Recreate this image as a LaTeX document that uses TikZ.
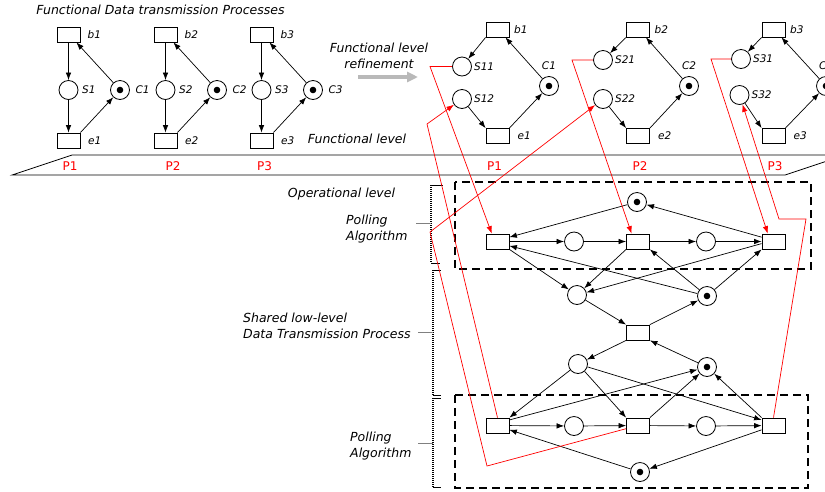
\documentclass[tikz,border=0pt]{standalone}
\usepackage{fontspec}
\setmainfont{DejaVu Sans}
\usepackage{tikz}
\usetikzlibrary{arrows.meta}

\tikzset{
    trans/.style={draw, rectangle, line width=0.8pt, minimum width=23pt, minimum height=15pt, inner sep=0pt},
    place/.style={draw, circle, line width=0.8pt, minimum size=19pt, inner sep=0pt},
    token/.style={place, path picture={\fill (path picture bounding box.center) circle (3.3pt);}},
    lab/.style={font=\fontsize{10.5}{12}\selectfont\itshape, inner sep=1pt},
    headline/.style={font=\fontsize{12.5}{16}\selectfont\itshape, align=left, inner sep=0pt},
    proc/.style={font=\fontsize{12}{14}\selectfont, text=red, inner sep=0pt},
    flow/.style={-{Latex[length=7.5pt,width=5.5pt]}, line width=0.7pt},
    refine/.style={red, line width=0.8pt},
    levelbox/.style={dash pattern=on 8pt off 5pt, line width=1.6pt},
    bracket/.style={dash pattern=on 1pt off 1pt, line width=1.6pt}
}

\begin{document}
\begin{tikzpicture}[x=1pt, y=-1pt]
                \useasboundingbox (0,0) rectangle (825,491);
                \fill[white] (0,0) rectangle (825,491);
                \begin{scope}
                \clip (0,0) rectangle (825,491);

                \node[headline] (title) at (160.5,10) {Functional Data transmission Processes};

                \node[trans, label={[lab, label distance=6pt]right:b1}] (b1) at (68.5,34.5) {};
                \node[place, label={[lab, label distance=2.5pt]right:S1}] (s1) at (68.5,90) {};
                \node[token, label={[lab, label distance=4.5pt]right:C1}] (c1) at (120,90) {};
                \node[trans, label={[lab, label distance=6.5pt]right:e1}] (e1) at (68.5,140.5) {};
                \draw[flow] (b1) -- (s1);
                \draw[flow] (s1) -- (e1);
                \draw[flow] (e1.north east) -- (c1);
                \draw[flow] (c1) -- (b1.-45);

                \node[trans, label={[lab, label distance=6pt]right:b2}] (b2) at (165.5,34.5) {};
                \node[place, label={[lab, label distance=2.5pt]right:S2}] (s2) at (165.5,90) {};
                \node[token, label={[lab, label distance=4.5pt]right:C2}] (c2) at (217,90) {};
                \node[trans, label={[lab, label distance=6.5pt]right:e2}] (e2) at (165.5,140.5) {};
                \draw[flow] (b2) -- (s2);
                \draw[flow] (s2) -- (e2);
                \draw[flow] (e2.north east) -- (c2);
                \draw[flow] (c2) -- (b2.-45);

                \node[trans, label={[lab, label distance=6pt]right:b3}] (b3) at (261.5,34.5) {};
                \node[place, label={[lab, label distance=2.5pt]right:S3}] (s3) at (261.5,90) {};
                \node[token, label={[lab, label distance=4.5pt]right:C3}] (c3) at (313,90) {};
                \node[trans, label={[lab, label distance=6.5pt]right:e3}] (e3) at (261.5,140.5) {};
                \draw[flow] (b3) -- (s3);
                \draw[flow] (s3) -- (e3);
                \draw[flow] (e3.north east) -- (c3);
                \draw[flow] (c3) -- (b3.-45);

                \node[headline, align=center] (refinetext) at (379,56) {Functional level\\refinement};
                \coordinate (rf1) at (358,77);
                \coordinate (rf2) at (418,77);
                \draw[line width=4pt, color=gray!55, -{Triangle[length=11pt,width=10pt]}] (rf1) -- (rf2);
                \node[headline] (funclevel) at (357,139) {Functional level};

                \node[trans, label={[lab, label distance=3.5pt]right:b1}] (rb1) at (497.5,29.5) {};
                \node[place, label={[lab, label distance=1pt]right:S11}] (s11) at (462,66.5) {};
                \node[place, label={[lab, label distance=1pt]right:S12}] (s12) at (462,99) {};
                \node[token, label={[lab, label distance=5pt]above:C1}] (rc1) at (549,86) {};
                \node[trans, label={[lab, label distance=7pt]right:e1}] (re1) at (497.5,136) {};
                \draw[flow] (rb1.south west) -- (s11);
                \draw[flow] (s12) -- (re1.north west);
                \draw[flow] (re1.north east) -- (rc1);
                \draw[flow] (rc1) -- (rb1.-45);

                \node[trans, label={[lab, label distance=3.5pt]right:b2}] (rb2) at (638,29.5) {};
                \node[place, label={[lab, label distance=1pt]right:S21}] (s21) at (603,60) {};
                \node[place, label={[lab, label distance=1pt]right:S22}] (s22) at (603,99) {};
                \node[token, label={[lab, label distance=5pt]above:C2}] (rc2) at (689,86) {};
                \node[trans, label={[lab, label distance=7pt]right:e2}] (re2) at (638,136) {};
                \draw[flow] (rb2.south west) -- (s21);
                \draw[flow] (s22) -- (re2.north west);
                \draw[flow] (re2.north east) -- (rc2);
                \draw[flow] (rc2) -- (rb2.-45);

                \node[trans, label={[lab, label distance=3.5pt]right:b3}] (rb3) at (773.5,29.5) {};
                \node[place, label={[lab, label distance=1pt]right:S31}] (s31) at (741,59) {};
                \node[place, label={[lab, label distance=1pt]right:S32}] (s32) at (739.5,95) {};
                \node[token, label={[lab, label distance=5pt]above:C3}] (rc3) at (826,86) {};
                \node[trans, label={[lab, label distance=7pt]right:e3}] (re3) at (773.5,136) {};
                \draw[flow] (rb3.south west) -- (s31);
                \draw[flow] (s32) -- (re3.north west);
                \draw[flow] (re3.north east) -- (rc3);
                \draw[flow] (rc3) -- (rb3.-45);

                \draw[line width=0.8pt] (12,175) -- (72,155) -- (845,155) -- (785,175) -- cycle;
                \node[proc] (p1) at (70,166) {P1};
                \node[proc] (p2) at (173,166) {P2};
                \node[proc] (p3) at (264.5,166) {P3};
                \node[proc] (rp1) at (494.5,166) {P1};
                \node[proc] (rp2) at (640,166) {P2};
                \node[proc] (rp3) at (775,166) {P3};

                \node[headline] (oplevel) at (341.5,194) {Operational level};
                \node[headline, anchor=west] (poll1) at (346,229.5) {Polling\\Algorithm};
                \node[headline, anchor=west] (shared) at (243,326) {Shared low-level\\Data Transmission Process};
                \node[headline, anchor=west] (poll2) at (350,446.5) {Polling\\Algorithm};

                \draw[bracket] (431,185) -- (431,263);
                \draw[line width=0.8pt] (431,185) -- (443,185);
                \draw[line width=0.8pt] (431,263) -- (440,263);
                \draw[color=gray, line width=0.8pt] (416,223) -- (431,223);
                \draw[bracket] (433,270) -- (433,395);
                \draw[line width=0.8pt] (433,270) -- (441,270);
                \draw[line width=0.8pt] (433,395) -- (441,395);
                \draw[color=gray, line width=0.8pt] (418,332) -- (433,332);
                \draw[bracket] (433,398) -- (433,487);
                \draw[line width=0.8pt] (433,398) -- (441,398);
                \draw[line width=0.8pt] (433,487) -- (441,487);
                \draw[color=gray, line width=0.8pt] (418,443) -- (433,443);

                \draw[levelbox] (455,182) rectangle (811,269);
                \draw[levelbox] (455,395) rectangle (808,488);

                \node[token] (toptok) at (637,202) {};
                \node[trans] (t1) at (497.5,241.5) {};
                \node[place] (pa) at (574,241.5) {};
                \node[trans] (t2) at (638,241.5) {};
                \node[place] (pb) at (706,241.5) {};
                \node[trans] (t3) at (773.5,241.5) {};
                \node[place] (q1) at (577,295) {};
                \node[token] (r1) at (707,296) {};
                \node[trans] (m) at (638,332.5) {};
                \node[place] (q2) at (578,364) {};
                \node[token] (r2) at (707,367) {};
                \node[trans] (bt1) at (497.5,425.5) {};
                \node[place] (pc) at (574,426) {};
                \node[trans] (bt2) at (638,425.5) {};
                \node[place] (pd) at (706,426) {};
                \node[trans] (bt3) at (773.5,425.5) {};
                \node[token] (bottok) at (640,472) {};

                \draw[flow] (toptok) -- (t1.20);
                \draw[flow] (t3.160) -- (toptok);
                \draw[flow] (t1) -- (pa);
                \draw[flow] (pa) -- (t2);
                \draw[flow] (t2) -- (pb);
                \draw[flow] (pb) -- (t3);
                \draw[flow] (t1.south east) -- (q1);
                \draw[flow] (t2.south west) -- (q1);
                \draw[flow] (t3.190) -- (q1);
                \draw[flow] (r1) -- (t1.-20);
                \draw[flow] (r1) -- (t2.south east);
                \draw[flow] (r1) -- (t3.south west);
                \draw[flow] (q1) -- (m.north west);
                \draw[flow] (m.north east) -- (r1);
                \draw[flow] (m.south west) -- (q2);
                \draw[flow] (r2) -- (m.south east);
                \draw[flow] (q2) -- (bt1.north east);
                \draw[flow] (q2) -- (bt2.north west);
                \draw[flow] (q2) -- (bt3.155);
                \draw[flow] (bt1.25) -- (r2);
                \draw[flow] (bt2.north east) -- (r2);
                \draw[flow] (bt3.north west) -- (r2);
                \draw[flow] (bt1) -- (pc);
                \draw[flow] (pc) -- (bt2);
                \draw[flow] (bt2) -- (pd);
                \draw[flow] (pd) -- (bt3);
                \draw[flow] (bottok) -- (bt1.-20);
                \draw[flow] (bt3.200) -- (bottok);

                \coordinate (k11) at (430,66.5);
                \coordinate (k12) at (427,124);
                \coordinate (k22a) at (487,466);
                \coordinate (k22b) at (430,232);
                \coordinate (k21) at (572,60);
                \coordinate (k31) at (711,59);
                \coordinate (k32a) at (806,219);
                \coordinate (k32b) at (779,219);
                \draw[refine, flow] (s11.west) -- (k11) -- (t1.126);
                \draw[refine, flow] (bt1.north) -- (k12) -- (s12);
                \draw[refine, flow] (bt2.195) -- (k22a) -- (k22b) -- (s22);
                \draw[refine, flow] (s21.west) -- (k21) -- (t2.129);
                \draw[refine, flow] (s31.west) -- (k31) -- (t3.126);
                \draw[refine, flow] (bt3.north) -- (k32a) -- (k32b) -- (s32);
                \end{scope}
            \end{tikzpicture}
\end{document}
